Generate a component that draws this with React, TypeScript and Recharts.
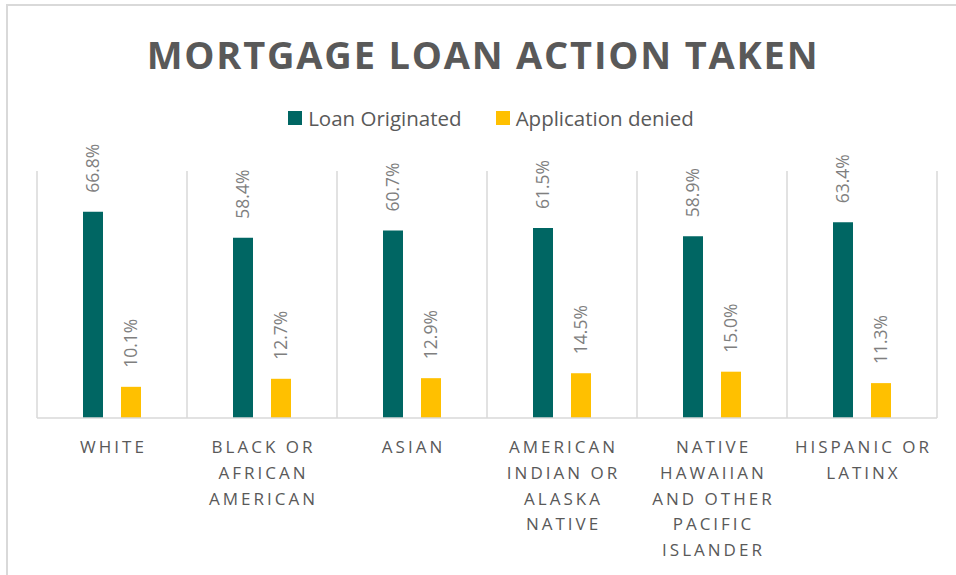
import React from "react";
import {
  BarChart,
  Bar,
  XAxis,
  YAxis,
  CartesianGrid,
  LabelList
} from "recharts";

const categories = [
  "White",
  "Black or African American",
  "Asian",
  "American Indian or Alaska Native",
  "Native Hawaiian and Other Pacific Islander",
  "Hispanic or Latinx"
];
const tickLines = [
  ["WHITE"],
  ["BLACK OR", "AFRICAN", "AMERICAN"],
  ["ASIAN"],
  ["AMERICAN", "INDIAN OR", "ALASKA", "NATIVE"],
  ["NATIVE", "HAWAIIAN", "AND OTHER", "PACIFIC", "ISLANDER"],
  ["HISPANIC OR", "LATINX"]
];
const loanOriginated = [66.8, 58.4, 60.7, 61.5, 58.9, 63.4];
const applicationDenied = [10.1, 12.7, 12.9, 14.5, 15.0, 11.3];
const gridTicks = [0, 1, 2, 3, 4, 5, 6];

const TEAL = "#006663";
const YELLOW = "#FFC000";
const FONT = "'Open Sans', 'Noto Sans', sans-serif";

const data = categories.map((name, i) => ({
  name,
  pos: i + 0.5,
  loan: loanOriginated[i],
  denied: applicationDenied[i]
}));

const legendItems = [
  { label: "Loan Originated", color: TEAL },
  { label: "Application denied", color: YELLOW }
];

function CategoryTick(props: any) {
  const { x, y, index } = props;
  const lines = tickLines[index] || [];
  return (
    <text
      x={x}
      y={y}
      textAnchor="middle"
      fill="#595959"
      fontSize={17}
      fontFamily={FONT}
      letterSpacing={3}
    >
      {lines.map((l, i) => (
        <tspan key={i} x={x + 1.5} dy={i === 0 ? 27 : 25.8}>
          {l}
        </tspan>
      ))}
    </text>
  );
}

function ValueLabel(props: any) {
  const { x, y, width, value } = props;
  const cx = x + width / 2 + 6;
  const cy = y - 19;
  return (
    <text
      x={cx}
      y={cy}
      transform={`rotate(-90 ${cx} ${cy})`}
      textAnchor="start"
      fill="#7f7f7f"
      fontSize={17.5}
      fontFamily={FONT}
    >
      {Number(value).toFixed(1)}%
    </text>
  );
}

export default function App() {
  return (
    <div
      style={{
        position: "absolute",
        left: 0,
        top: 0,
        width: 956,
        height: 575,
        overflow: "hidden",
        background: "#fff"
      }}
    >
      <div
        style={{
          position: "absolute",
          left: 6,
          top: 4,
          width: 980,
          height: 620,
          border: "2px solid #d9d9d9",
          boxSizing: "border-box"
        }}
      />
      <div
        style={{
          position: "absolute",
          left: 5,
          top: 34,
          width: 956,
          textAlign: "center",
          fontFamily: FONT,
          fontWeight: 700,
          fontSize: 38,
          letterSpacing: 1.8,
          color: "#595959",
          lineHeight: "40px"
        }}
      >
        MORTGAGE LOAN ACTION TAKEN
      </div>
      <div
        style={{
          position: "absolute",
          left: 13,
          top: 104,
          width: 956,
          display: "flex",
          justifyContent: "center",
          gap: 34,
          fontFamily: FONT,
          fontSize: 20.5,
          color: "#595959"
        }}
      >
        {legendItems.map(it => (
          <div key={it.label} style={{ display: "flex", alignItems: "center" }}>
            <span
              style={{
                display: "inline-block",
                width: 14,
                height: 14,
                background: it.color,
                marginRight: 6
              }}
            />
            <span>{it.label}</span>
          </div>
        ))}
      </div>
      <div style={{ position: "absolute", left: 0, top: 0 }}>
        <BarChart
          width={956}
          height={575}
          data={data}
          margin={{ top: 171, right: 19, bottom: 127, left: 37 }}
          barGap={18}
          barSize={20}
        >
          <XAxis
            xAxisId="grid"
            type="number"
            dataKey="pos"
            domain={[0, 6]}
            ticks={gridTicks}
            hide
          />
          <CartesianGrid
            xAxisId="grid"
            horizontal={false}
            stroke="#d9d9d9"
            strokeWidth={1.5}
          />
          <XAxis
            dataKey="name"
            axisLine={{ stroke: "#d9d9d9", strokeWidth: 1.5 }}
            tickLine={false}
            interval={0}
            tick={<CategoryTick />}
          />
          <YAxis hide domain={[0, 80]} />
          <Bar dataKey="loan" name="Loan Originated" fill={TEAL} isAnimationActive={false}>
            <LabelList dataKey="loan" content={<ValueLabel />} />
          </Bar>
          <Bar dataKey="denied" name="Application denied" fill={YELLOW} isAnimationActive={false}>
            <LabelList dataKey="denied" content={<ValueLabel />} />
          </Bar>
        </BarChart>
      </div>
    </div>
  );
}
